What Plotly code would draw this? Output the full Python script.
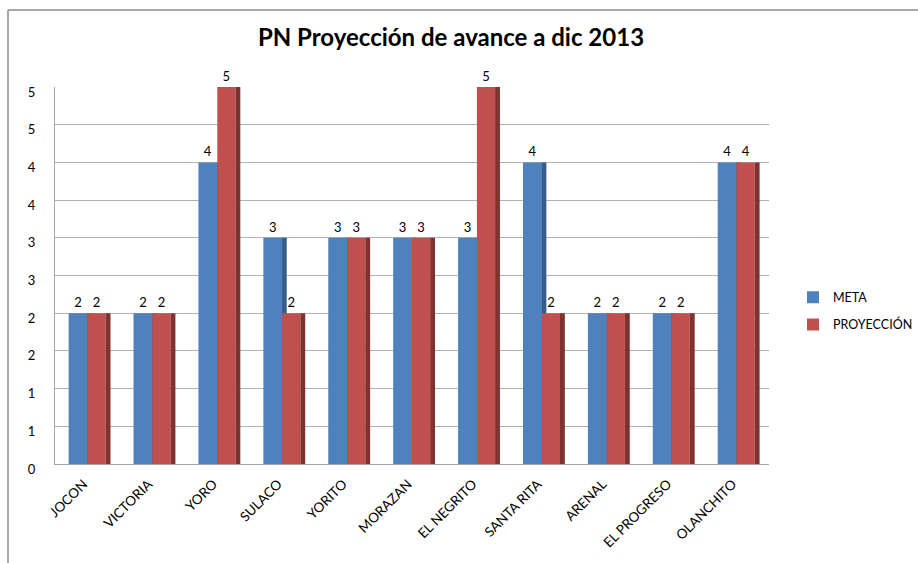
import plotly.graph_objects as go

categories = ["JOCON", "VICTORIA", "YORO", "SULACO", "YORITO", "MORAZAN",
              "EL NEGRITO", "SANTA RITA", "ARENAL", "EL PROGRESO", "OLANCHITO"]
meta = [2, 2, 4, 3, 3, 3, 3, 4, 2, 2, 4]
proyeccion = [2, 2, 5, 2, 3, 3, 5, 2, 2, 2, 4]
tick_vals = [0, 0.5, 1, 1.5, 2, 2.5, 3, 3.5, 4, 4.5, 5]
tick_text = ["0", "1", "1", "2", "2", "3", "3", "4", "4", "5", "5"]

BLUE = "#4F81BD"
BLUE_SIDE = "#375C88"
RED = "#C0504D"
RED_SIDE = "#7F3331"
FONT = "Lato"

W, H = 918, 563
# target pixel positions of the plot area in the screenshot
PL, PR, PT, PB = 55, 769, 87, 464
ML, MT = PL, PT
MR, MB = W - PR, H - PB

pw = W - ML - MR
ph = H - MT - MB
def px_x(x):
    return (x - PL) / pw
def px_y(y):
    return (PB - y) / ph

fig = go.Figure()
fig.add_trace(go.Bar(x=categories, y=meta, offset=-0.01, width=0.08,
                     marker=dict(color=BLUE_SIDE, line=dict(width=0)),
                     showlegend=False, hoverinfo="skip"))
fig.add_trace(go.Bar(name="META", x=categories, y=meta, offset=-0.29, width=0.29,
                     marker=dict(color=BLUE, line=dict(width=0)),
                     text=[str(v) for v in meta], textposition="outside",
                     textfont=dict(family=FONT, size=13, color="#000"),
                     cliponaxis=False, legendgroup="a"))
fig.add_trace(go.Bar(name="PROYECCIÓN", x=categories, y=proyeccion, offset=0.0, width=0.28,
                     marker=dict(color=RED, line=dict(width=0)),
                     text=[str(v) for v in proyeccion], textposition="outside",
                     textfont=dict(family=FONT, size=13, color="#000"),
                     cliponaxis=False, legendgroup="b"))
fig.add_trace(go.Bar(x=categories, y=proyeccion, offset=0.28, width=0.075,
                     marker=dict(color=RED_SIDE, line=dict(width=0)),
                     showlegend=False, hoverinfo="skip"))

fig.update_layout(
    width=W, height=H,
    margin=dict(l=ML, r=MR, t=MT, b=MB),
    barmode="overlay",
    plot_bgcolor="white", paper_bgcolor="white",
    font=dict(family=FONT, size=13, color="#000"),
    title=dict(text="<b>PN Proyección de avance a dic 2013</b>",
               font=dict(family=FONT, size=24, color="#000"),
               x=451 / W, xanchor="center", y=1 - 38 / H, yanchor="middle"),
    legend=dict(xref="container", x=1.0, xanchor="right",
                y=px_y(311), yanchor="middle",
                font=dict(family=FONT, size=12.5), tracegroupgap=8,
                bgcolor="rgba(0,0,0,0)"),
    xaxis=dict(tickangle=-45, tickfont=dict(family=FONT, size=13.5),
               showline=True, linecolor="#A6A6A6", linewidth=1,
               showgrid=False, ticks="", ticklabelstandoff=6,
               ticklabelshift=-4),
    yaxis=dict(range=[0, 5], tickvals=tick_vals, ticktext=tick_text,
               tickfont=dict(family=FONT, size=13),
               showgrid=True, gridcolor="#B3B3B3", gridwidth=1,
               showline=True, linecolor="#A6A6A6", linewidth=1,
               zeroline=False, ticks="", ticklabelstandoff=16,
               ticklabelshift=5),
    shapes=[
        dict(type="line", xref="paper", yref="paper",
             x0=px_x(8), x1=px_x(W + 20), y0=px_y(10), y1=px_y(10),
             line=dict(color="#8C8C8C", width=1.5)),
        dict(type="line", xref="paper", yref="paper",
             x0=px_x(8), x1=px_x(8), y0=px_y(10), y1=px_y(H + 20),
             line=dict(color="#8C8C8C", width=1.5)),
    ],
)

fig.write_html("out.html", config={"responsive": False, "displayModeBar": False},
               post_script="document.body.style.margin='0';document.body.style.overflow='hidden';")
